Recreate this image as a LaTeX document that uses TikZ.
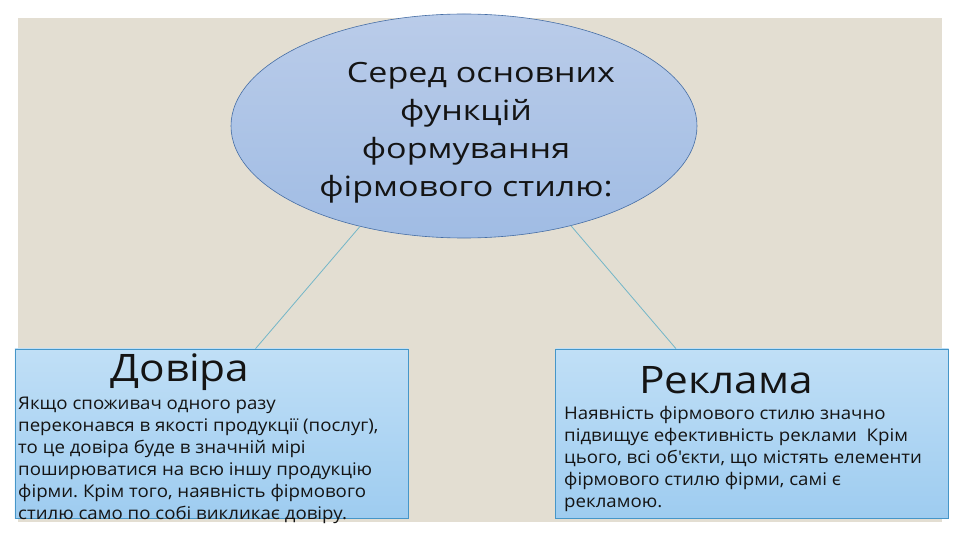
\documentclass[tikz,border=0pt]{standalone}
\usepackage{fontspec}
\setmainfont{Open Sans}
\newfontfamily\ovalFont[FakeStretch = 1.22]{Open Sans}
\newfontfamily\headFont[FakeStretch = 1.12]{Open Sans}
\newfontfamily\bodyFont[FakeStretch = 1.07]{Open Sans}
\usetikzlibrary{shapes.geometric, positioning}
\frenchspacing

\definecolor{slideBg}{RGB}{227,222,210}
\definecolor{ovalTop}{RGB}{186,204,233}
\definecolor{ovalBot}{RGB}{160,188,228}
\definecolor{ovalLine}{RGB}{70,110,165}
\definecolor{boxTop}{RGB}{192,223,246}
\definecolor{boxBot}{RGB}{158,204,240}
\definecolor{boxLine}{RGB}{70,150,200}
\definecolor{linkLine}{RGB}{115,182,200}
\definecolor{ink}{RGB}{20,20,20}

\begin{document}
\begin{tikzpicture}[x=1bp, y=-1bp,
    oval/.style = {ellipse, draw = ovalLine, line width = 0.6bp, top color = ovalTop, bottom color = ovalBot,
                   minimum width = 466bp, minimum height = 224bp, inner sep = 0pt},
    card/.style = {rectangle, draw = boxLine, line width = 0.6bp, top color = boxTop, bottom color = boxBot,
                   minimum width = 393bp, minimum height = 169bp, inner sep = 0pt},
    link/.style = {draw = linkLine, line width = 0.8bp},
    cardhead/.style = {text = ink, font = \headFont\fontsize{38}{40}\selectfont, inner sep = 0pt},
    cardtext/.style = {text = ink, font = \bodyFont\fontsize{17.5}{22}\selectfont, align = left, anchor = north west, inner sep = 0pt}]
    \useasboundingbox (0,0) rectangle (960,540);

    \begin{scope}
        \fill [white] (0,0) rectangle (960,540);
        \fill [slideBg] (18,18) rectangle (942,522);
    \end{scope}

    \node [oval] (main) at (464,126) {};
    \node [text = ink, font = \ovalFont\fontsize{28}{38}\selectfont, align = center] (mainText) at (466,133)
        {\hspace*{30bp}Серед основних\\функцій\\формування\\фірмового стилю:};

    \node [card] (trust) at (211.5,433.5) {};
    \node [card] (ads) at (752,433.5) {};

    \draw [link] (main.224) -- ([xshift = 44bp]trust.north);
    \draw [link] (main.317) -- ([xshift = -76bp]ads.north);

    \node [cardhead] (trustHead) at (180,372) {Довіра};
    \node [cardtext] (trustText) at (18,397)
        {Якщо споживач одного разу\\переконався в якості продукції (послуг),\\то це довіра буде в значній мірі\\поширюватися на всю іншу продукцію\\фірми. Крім того, наявність фірмового\\стилю само по собі викликає довіру.};

    \node [cardhead] (adsHead) at (726,380) {Реклама};
    \node [cardtext] (adsText) at (564,406)
        {Наявність фірмового стилю значно\\підвищує ефективність реклами\ \ Крім\\цього, всі об'єкти, що містять елементи\\фірмового стилю фірми, самі є\\рекламою.};
\end{tikzpicture}
\end{document}
